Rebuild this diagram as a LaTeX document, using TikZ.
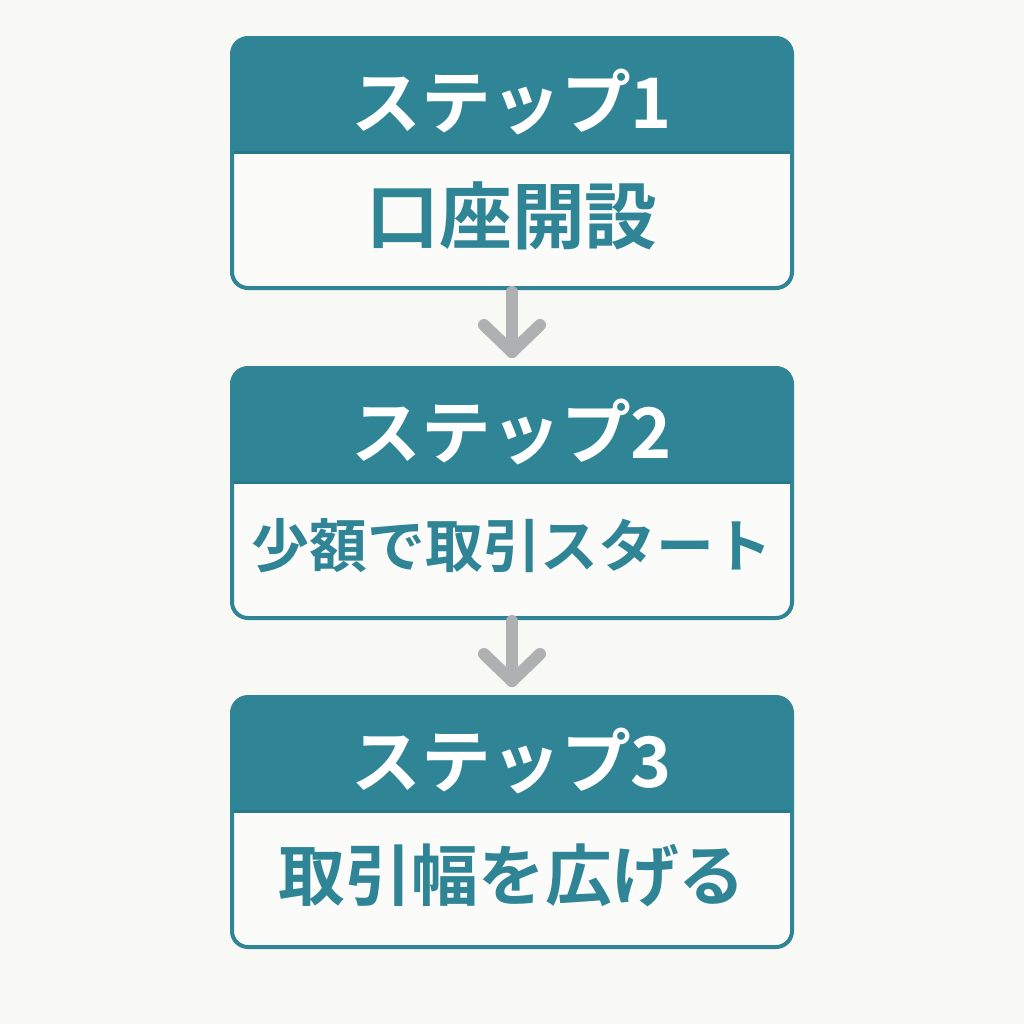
\documentclass[tikz,border=0pt]{standalone}
\usepackage{fontspec}
\newfontfamily\cjk{Noto Sans CJK JP}[BoldFont={Noto Sans CJK JP Bold}]
\definecolor{bg}{HTML}{F8F8F5}
\definecolor{teal}{HTML}{2F8596}
\definecolor{tealdk}{HTML}{267A8A}
\definecolor{bodyfill}{HTML}{FBFBF9}
\definecolor{arrowgray}{HTML}{AEB0B2}
\tikzset{
  boxframe/.style={draw=teal, line width=4bp, rounded corners=16bp},
  headtext/.style={text=white, font=\cjk\bfseries\fontsize{70}{70}\selectfont, anchor=center},
  flowarrow/.style={draw=arrowgray, line width=12bp, line cap=round, line join=round},
}
\begin{document}
\begin{tikzpicture}[x=1bp,y=-1bp]
\useasboundingbox[fill=bg] (0,0) rectangle (1024,1024);
\foreach \i/\top/\head/\body/\bsize in {1/38/ステップ1/口座開設/73, 2/368/ステップ2/少額で取引スタート/58, 3/697/ステップ3/取引幅を広げる/67}{
  \pgfmathsetmacro{\hb}{\top+114}
  \pgfmathsetmacro{\bt}{\top+250}
  \fill[bodyfill, rounded corners=16bp] (232,\top) rectangle (792,\bt);
  \fill[teal] [rounded corners=16bp] (232,\hb) -- (232,\top) -- (792,\top) [sharp corners] -- (792,\hb) -- cycle;
  \draw[tealdk, line width=3bp] (232,\hb) -- (792,\hb);
  \draw[boxframe] (232,\top) rectangle (792,\bt);
  \node[headtext] (head\i) at (512,\top+64) {\head};
  \node[text=teal, font=\cjk\bfseries\fontsize{\bsize}{\bsize}\selectfont, anchor=center] (body\i) at (512,\hb+64) {\body};
}
\coordinate (a1s) at (512,292);
\coordinate (a1e) at (512,352);
\coordinate (a2s) at (512,621);
\coordinate (a2e) at (512,681);
\draw[flowarrow] (a1s) -- (a1e);
\draw[flowarrow] (484,325) -- (a1e) -- (540,325);
\draw[flowarrow] (a2s) -- (a2e);
\draw[flowarrow] (484,654) -- (a2e) -- (540,654);
\end{tikzpicture}
\end{document}
